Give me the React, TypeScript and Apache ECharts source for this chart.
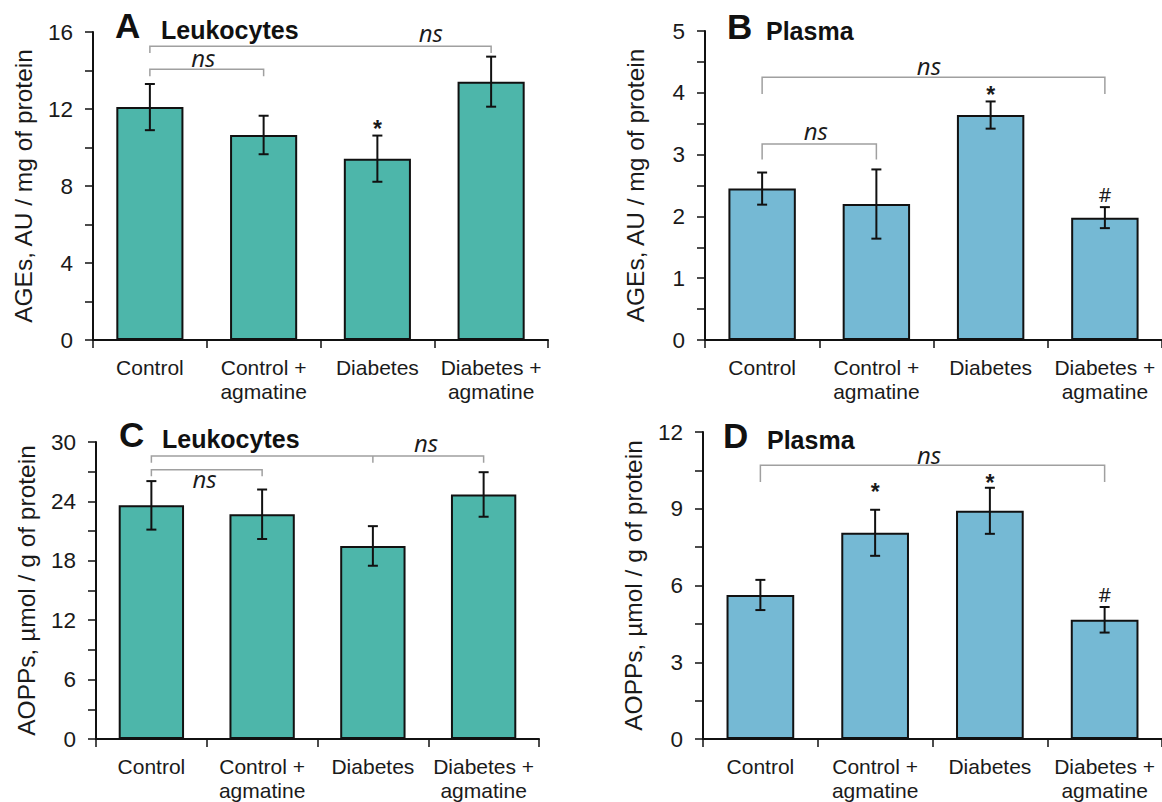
import React, { useEffect, useRef } from 'react';
import * as echarts from 'echarts';

const categories = ['Control', 'Control +\nagmatine', 'Diabetes', 'Diabetes +\nagmatine'];

// Panel A: AGEs, leukocytes
const agesLeukoMean = [12.1, 10.65, 9.42, 13.42];
const agesLeukoErr = [1.2, 1.0, 1.2, 1.3];
// Panel B: AGEs, plasma
const agesPlasmaMean = [2.45, 2.2, 3.64, 1.98];
const agesPlasmaErr = [0.26, 0.56, 0.22, 0.17];
// Panel C: AOPPs, leukocytes
const aoppsLeukoMean = [23.6, 22.7, 19.5, 24.7];
const aoppsLeukoErr = [2.45, 2.5, 2.0, 2.25];
// Panel D: AOPPs, plasma
const aoppsPlasmaMean = [5.63, 8.06, 8.92, 4.66];
const aoppsPlasmaErr = [0.59, 0.9, 0.9, 0.5];

// y-axis ranges
const yMaxes = [16, 5, 30, 12];
const ySteps = [4, 1, 6, 3];

// brackets: [fromCategory, toCategory, level, legDrop]
const bracketsA = [[0, 3, 15.26, 0.35], [0, 1, 14.06, 0.36]];
const bracketsB = [[0, 3, 4.25, 0.27], [0, 1, 3.17, 0.25]];
const bracketsC = [[0, 3, 28.58, 0.67], [2, 2, 28.58, 0.67], [0, 1, 27.2, 0.67]];
const bracketsD = [[0, 3, 10.7, 0.65]];

// significance marks: [categoryPosition, baselineLevel, text]
const marksA: [number, number, string][] = [[2.47, 15.55, 'ns'], [0.47, 14.22, 'ns'], [2, 10.55, '*']];
const marksB: [number, number, string][] = [[1.46, 4.3, 'ns'], [0.47, 3.26, 'ns'], [2, 3.83, '*'], [3, 2.24, '#']];
const marksC: [number, number, string][] = [[2.48, 29.09, 'ns'], [0.48, 25.51, 'ns']];
const marksD: [number, number, string][] = [[1.47, 10.79, 'ns'], [1, 9.33, '*'], [2, 9.7, '*'], [3, 5.37, '#']];

const TEAL = '#4db6aa';
const BLUE = '#75b9d4';

const panels = [
  {
    mean: agesLeukoMean, err: agesLeukoErr, color: TEAL,
    yName: 'AGEs, AU / mg of protein',
    grid: { left: 93, top: 32, width: 455, height: 308 },
    brackets: bracketsA, marks: marksA,
    letter: 'A', title: 'Leukocytes', letterPos: [115, 8], titlePos: [161, 17],
  },
  {
    mean: agesPlasmaMean, err: agesPlasmaErr, color: BLUE,
    yName: 'AGEs, AU / mg of protein',
    grid: { left: 705, top: 31, width: 464, height: 309 },
    brackets: bracketsB, marks: marksB,
    letter: 'B', title: 'Plasma', letterPos: [727, 9], titlePos: [766, 18],
  },
  {
    mean: aoppsLeukoMean, err: aoppsLeukoErr, color: TEAL,
    yName: 'AOPPs, µmol / g of protein',
    grid: { left: 96, top: 442, width: 443, height: 297 },
    brackets: bracketsC, marks: marksC,
    letter: 'C', title: 'Leukocytes', letterPos: [119, 417], titlePos: [162, 426],
  },
  {
    mean: aoppsPlasmaMean, err: aoppsPlasmaErr, color: BLUE,
    yName: 'AOPPs, µmol / g of protein',
    grid: { left: 703, top: 432, width: 467, height: 307 },
    brackets: bracketsD, marks: marksD,
    letter: 'D', title: 'Plasma', letterPos: [723, 418], titlePos: [767, 427],
  },
];

function markFont(t: string) {
  if (t === 'ns') return { font: 'italic 24px "Open Sans"', size: 24 };
  if (t === '*') return { font: 'bold 23px "Liberation Sans"', size: 23 };
  return { font: '20px "Open Sans"', size: 20 };
}

function buildOption() {
  const grids: any[] = [];
  const xAxes: any[] = [];
  const yAxes: any[] = [];
  const series: any[] = [];
  const titles: any[] = [];

  panels.forEach((p, i) => {
    grids.push({ ...p.grid, containLabel: false });
    xAxes.push({
      type: 'category', gridIndex: i, data: categories,
      axisLine: { show: true, onZero: false, lineStyle: { color: '#111', width: 2 } },
      axisTick: { show: true, interval: 0, length: 8, lineStyle: { color: '#111', width: 1.5 } },
      axisLabel: { interval: 0, color: '#1a1a1a', fontSize: 21, lineHeight: 24, margin: 15, fontFamily: 'Liberation Sans' },
      splitLine: { show: false },
    });
    xAxes.push({ type: 'value', gridIndex: i, min: -0.5, max: 3.5, show: false });
    yAxes.push({
      type: 'value', gridIndex: i, min: 0, max: yMaxes[i], interval: ySteps[i],
      name: p.yName, nameLocation: 'middle', nameRotate: 90, nameGap: 57,
      nameTextStyle: { fontSize: 24.5, color: '#1a1a1a', fontFamily: 'Liberation Sans' },
      axisLine: { show: true, onZero: false, lineStyle: { color: '#111', width: 2 } },
      axisTick: { show: true, inside: false, length: 8, lineStyle: { color: '#111', width: 1.5 } },
      minorTick: { show: true, splitNumber: 2, length: 8, lineStyle: { color: '#111', width: 1.5 } },
      axisLabel: { fontSize: 22.5, color: '#1a1a1a', margin: 20, fontFamily: 'Liberation Sans' },
      splitLine: { show: false },
    });

    series.push({
      type: 'bar', xAxisIndex: 2 * i, yAxisIndex: i, data: p.mean, barWidth: '59%',
      itemStyle: { color: p.color, borderColor: '#111', borderWidth: 2 },
      z: 2,
    });

    const errData = p.mean.map((m, k) => [k, m - p.err[k], m + p.err[k]]);
    series.push({
      type: 'custom', xAxisIndex: 2 * i + 1, yAxisIndex: i, data: errData, clip: false, z: 5,
      renderItem: (params: any, api: any) => {
        const d = errData[params.dataIndex];
        const top = api.coord([d[0], d[2]]);
        const bot = api.coord([d[0], d[1]]);
        const st = { stroke: '#111', lineWidth: 2 };
        return {
          type: 'group',
          children: [
            { type: 'line', shape: { x1: top[0], y1: top[1], x2: bot[0], y2: bot[1] }, style: st },
            { type: 'line', shape: { x1: top[0] - 5, y1: top[1], x2: top[0] + 5, y2: top[1] }, style: st },
            { type: 'line', shape: { x1: bot[0] - 5, y1: bot[1], x2: bot[0] + 5, y2: bot[1] }, style: st },
          ],
        };
      },
    });

    const br = p.brackets;
    series.push({
      type: 'custom', xAxisIndex: 2 * i + 1, yAxisIndex: i, data: br.map((b) => [b[0], b[2]]), clip: false, z: 6,
      renderItem: (params: any, api: any) => {
        const [x1, x2, y, drop] = br[params.dataIndex];
        const a = api.coord([x1, y - drop]);
        const b = api.coord([x1, y]);
        const c = api.coord([x2, y]);
        const d = api.coord([x2, y - drop]);
        return {
          type: 'polyline',
          shape: { points: [a, b, c, d] },
          style: { stroke: '#a0a0a0', lineWidth: 1.5, fill: 'none' },
        };
      },
    });

    const mk = p.marks;
    series.push({
      type: 'custom', xAxisIndex: 2 * i + 1, yAxisIndex: i, data: mk.map((m) => [m[0], m[1]]), clip: false, z: 7,
      renderItem: (params: any, api: any) => {
        const [x, y, t] = mk[params.dataIndex];
        const pt = api.coord([x, y]);
        const f = markFont(t);
        return {
          type: 'text',
          x: pt[0],
          y: pt[1] - 0.35 * f.size,
          style: { text: t, font: f.font, fill: '#1a1a1a', align: 'center', verticalAlign: 'middle' },
        };
      },
    });

    titles.push({
      text: p.letter, left: p.letterPos[0], top: p.letterPos[1], padding: 0,
      textStyle: { fontSize: 35, fontWeight: 'bold', color: '#111', fontFamily: 'Liberation Sans' },
    });
    titles.push({
      text: p.title, left: p.titlePos[0], top: p.titlePos[1], padding: 0,
      textStyle: { fontSize: 25, fontWeight: 'bold', color: '#111', fontFamily: 'Liberation Sans' },
    });
  });

  return {
    animation: false,
    backgroundColor: '#ffffff',
    textStyle: { fontFamily: 'Liberation Sans' },
    title: titles,
    grid: grids,
    xAxis: xAxes,
    yAxis: yAxes,
    series,
  };
}

export default function App() {
  const ref = useRef<HTMLDivElement>(null);
  useEffect(() => {
    document.body.style.margin = '0';
    if (!ref.current) return;
    const chart = echarts.init(ref.current, undefined, { renderer: 'svg' });
    chart.setOption(buildOption() as any);
    return () => chart.dispose();
  }, []);
  return <div ref={ref} style={{ width: 1162, height: 802, overflow: 'hidden' }} />;
}
